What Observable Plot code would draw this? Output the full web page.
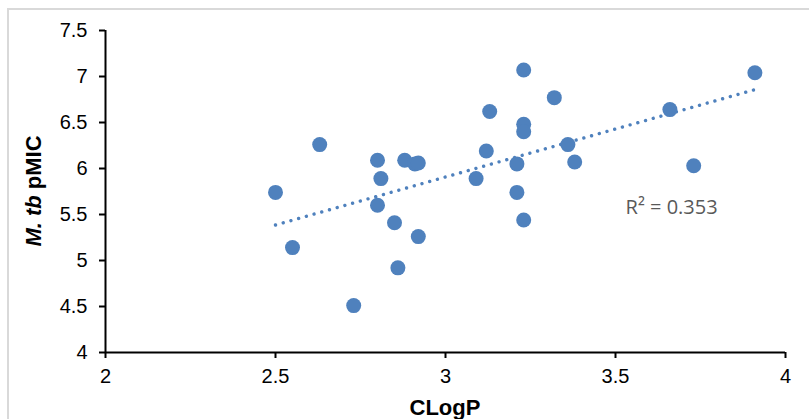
<!DOCTYPE html>
<html>
<head>
<meta charset="utf-8">
<script src="https://cdn.jsdelivr.net/npm/d3@7"></script>
<script src="https://cdn.jsdelivr.net/npm/@observablehq/plot@0.6"></script>
<style>
  html, body { margin: 0; padding: 0; background: #fff; overflow: hidden; }
  #wrap { position: relative; width: 809px; height: 419px; }
  #border { position: absolute; left: 7px; top: 8px; width: 830px; height: 440px;
            border: 2px solid #d9d9d9; pointer-events: none; box-sizing: border-box; }
</style>
</head>
<body>
<div id="wrap"><div id="chart"></div><div id="border"></div></div>
<script>
// Data
const clogp = [2.50, 2.55, 2.63, 2.73, 2.80, 2.80, 2.81, 2.85, 2.86, 2.88, 2.91, 2.92, 2.92, 3.09,
               3.12, 3.13, 3.21, 3.21, 3.23, 3.23, 3.23, 3.23, 3.32, 3.36, 3.38, 3.66, 3.73, 3.91];
const pmic  = [5.74, 5.14, 6.26, 4.51, 6.09, 5.60, 5.89, 5.41, 4.92, 6.09, 6.05, 6.06, 5.26, 5.89,
               6.19, 6.62, 6.05, 5.74, 7.07, 6.48, 6.40, 5.44, 6.77, 6.26, 6.07, 6.64, 6.03, 7.04];
const xTicks = [2, 2.5, 3, 3.5, 4];
const yTicks = [4, 4.5, 5, 5.5, 6, 6.5, 7, 7.5];
const r2Label = [{x: 3.665, y: 5.58, text: "R\u00B2 = 0.353"}];

const data = clogp.map((x, i) => ({x, y: pmic[i]}));
const blue = "#4f81bd";

const chart = Plot.plot({
  width: 809,
  height: 419,
  marginLeft: 105,
  marginRight: 24,
  marginTop: 30,
  marginBottom: 67,
  style: {fontFamily: "'Liberation Sans', Arial, sans-serif", fontSize: "20px", color: "#000", background: "#fff"},
  x: {domain: [2, 4]},
  y: {domain: [4, 7.5]},
  marks: [
    Plot.axisY({ticks: yTicks, tickFormat: d => String(d), tickSize: 6, tickPadding: 12,
                strokeWidth: 2, fontSize: 20, label: null}),
    Plot.axisX({ticks: xTicks, tickFormat: d => String(d), tickSize: 6, tickPadding: 10,
                strokeWidth: 2, fontSize: 20, label: null}),
    Plot.ruleX([2], {stroke: "#000", strokeWidth: 2}),
    Plot.ruleY([4], {stroke: "#000", strokeWidth: 2}),
    Plot.linearRegressionY(data, {x: "x", y: "y", ci: 0, stroke: blue, strokeWidth: 3.4,
                strokeDasharray: "0.01 8", strokeLinecap: "round"}),
    Plot.dot(data, {x: "x", y: "y", r: 7.5, fill: blue, stroke: "none"}),
    Plot.text(r2Label, {x: "x", y: "y", text: "text", fill: "#595959", fontSize: 20,
                fontFamily: "'Open Sans', sans-serif", textAnchor: "middle"})
  ]
});
document.getElementById("chart").appendChild(chart);

// Axis titles
const svg = d3.select(chart);
const ml = 105, mr = 24, mt = 30, mb = 67, W = 809, H = 419;
svg.append("text")
  .attr("x", ml + (W - ml - mr) / 2)
  .attr("y", H - 4)
  .attr("text-anchor", "middle")
  .attr("font-family", "'Liberation Sans', Arial, sans-serif")
  .attr("font-weight", "bold")
  .attr("font-size", 22)
  .attr("fill", "#000")
  .text("CLogP");
const yt = svg.append("text")
  .attr("transform", `translate(41,${mt + (H - mt - mb) / 2}) rotate(-90)`)
  .attr("text-anchor", "middle")
  .attr("font-family", "'Liberation Sans', Arial, sans-serif")
  .attr("font-weight", "bold")
  .attr("font-size", 22)
  .attr("fill", "#000");
yt.append("tspan").attr("font-style", "italic").text("M. tb");
yt.append("tspan").text(" pMIC");
</script>
</body>
</html>
